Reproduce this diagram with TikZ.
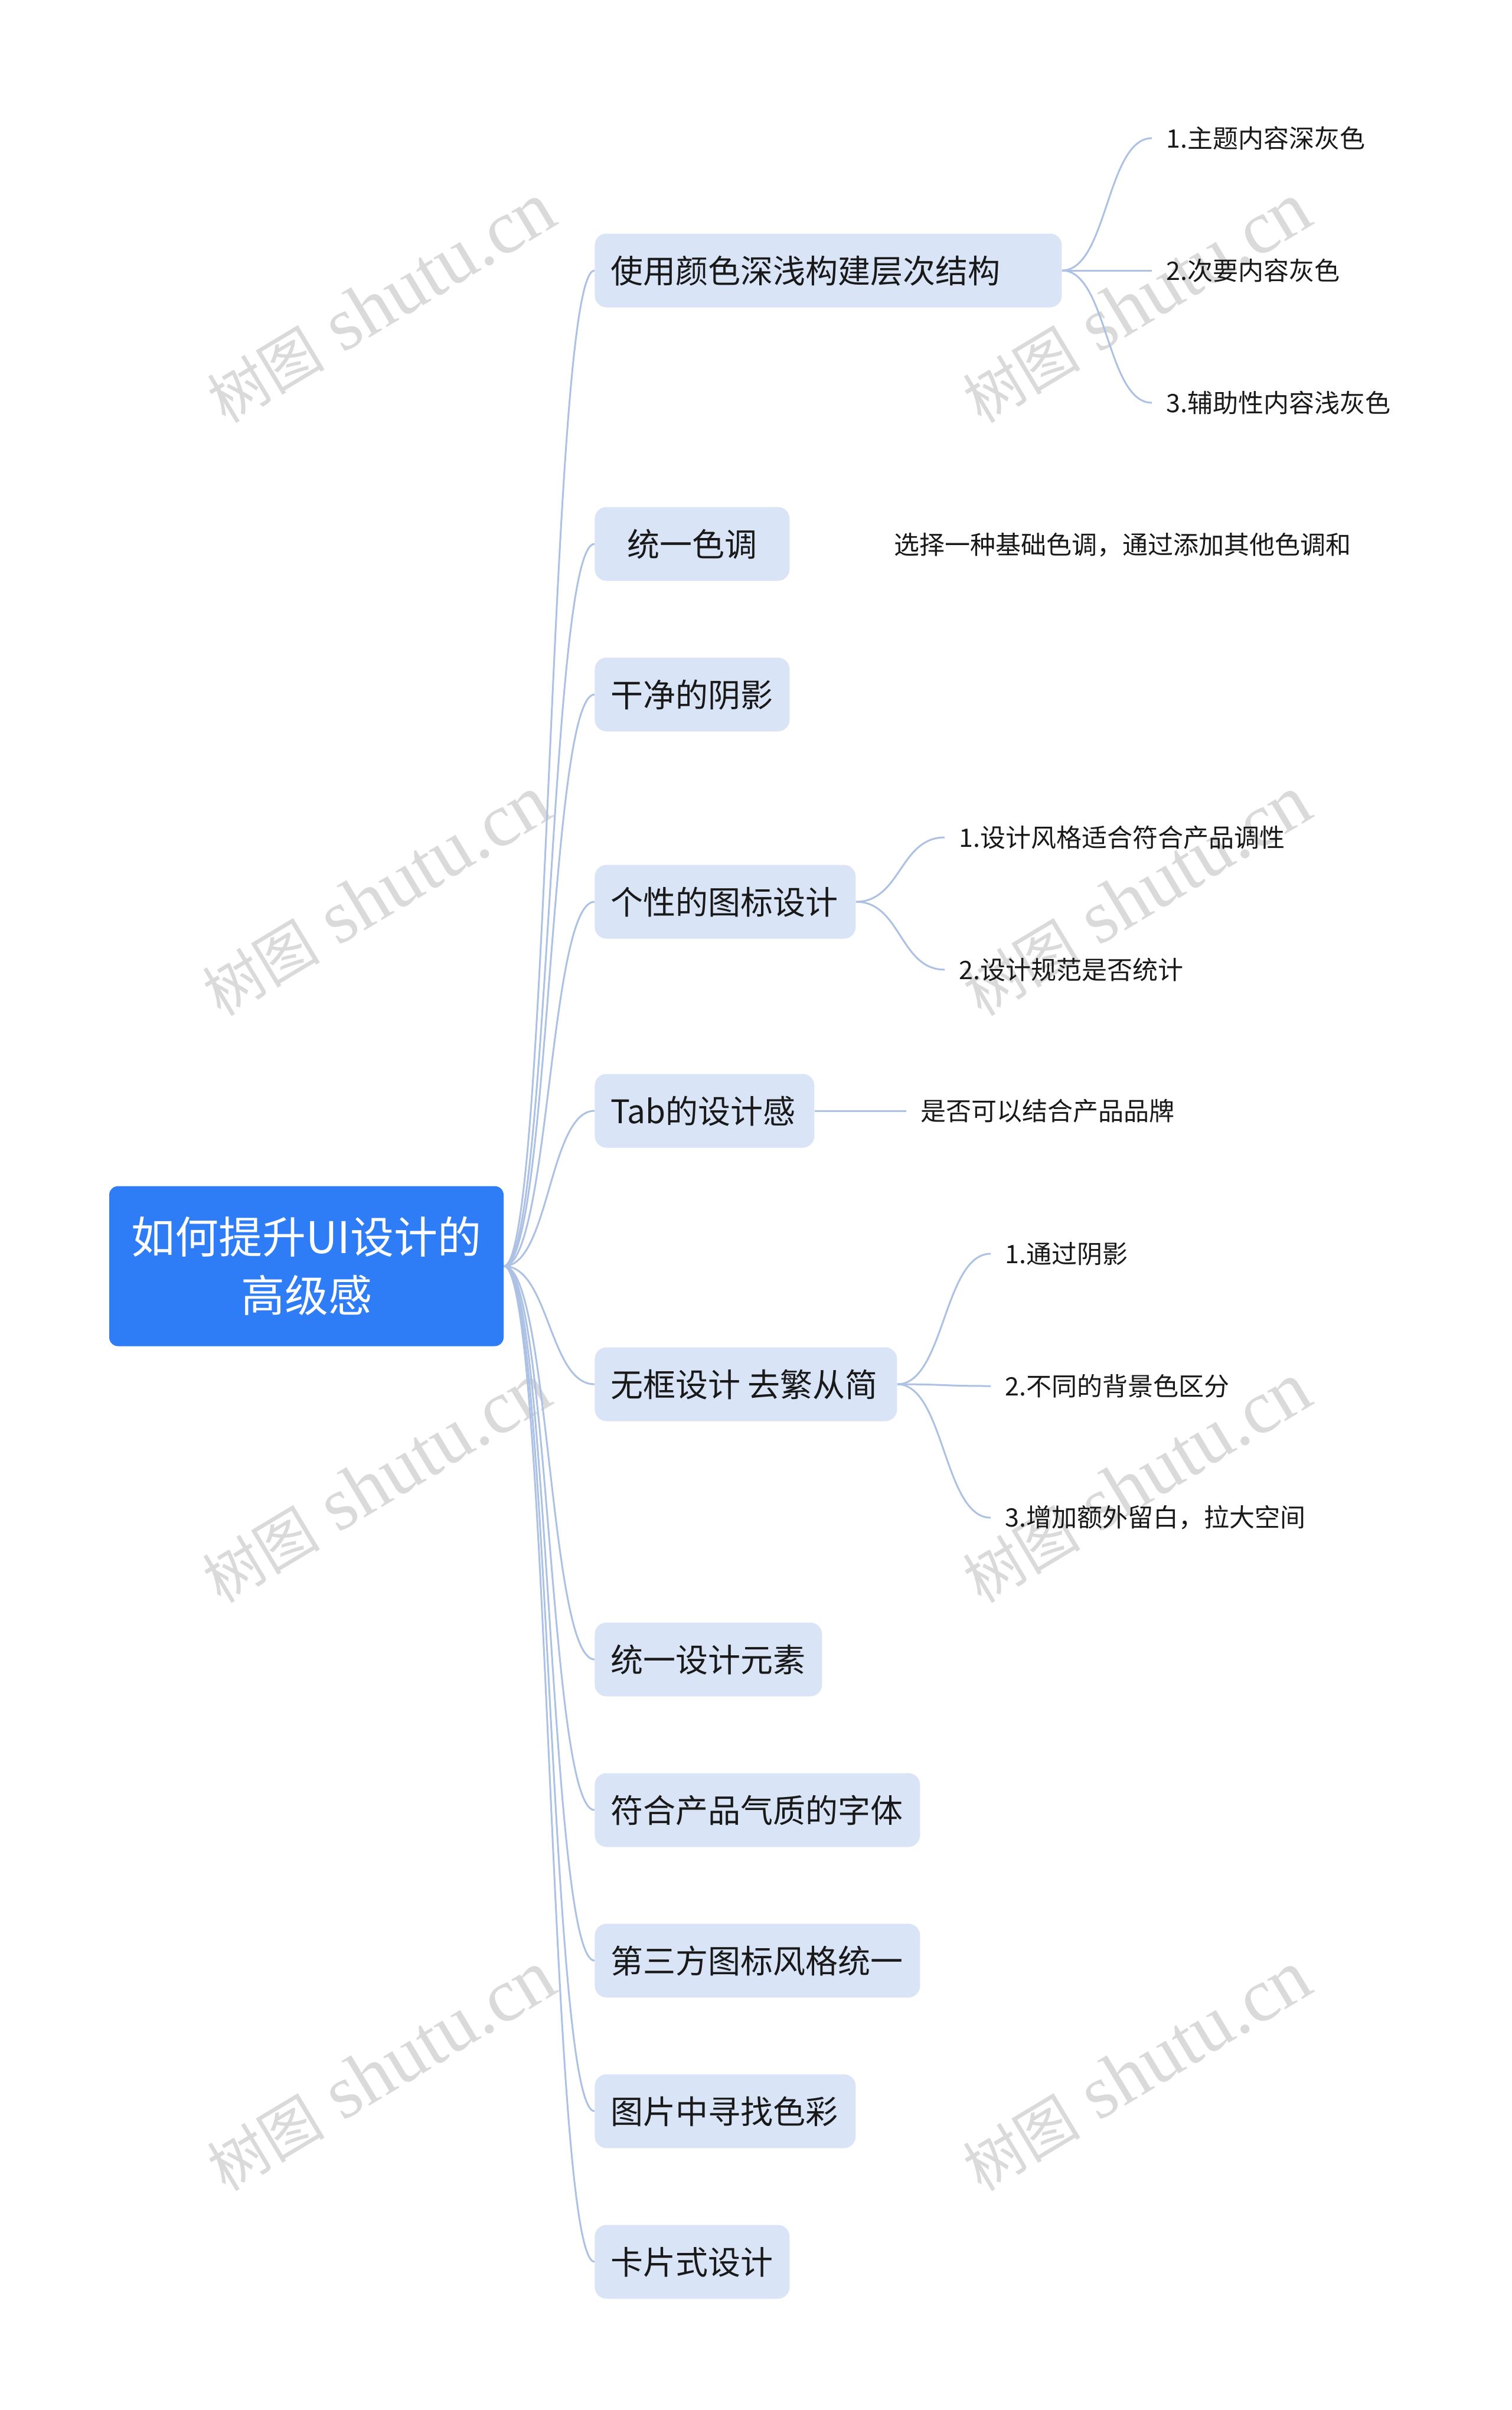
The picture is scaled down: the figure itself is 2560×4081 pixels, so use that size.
\documentclass[tikz,border=0pt]{standalone}
\usepackage{fontspec}
\setmainfont{Noto Sans CJK SC}
\newfontfamily\wmserif{Liberation Serif}
\definecolor{rootblue}{RGB}{46,125,246}
\definecolor{boxblue}{RGB}{217,228,246}
\definecolor{linkblue}{RGB}{172,193,228}
\definecolor{txt}{RGB}{25,25,25}
\definecolor{wm}{RGB}{218,218,218}
\newcommand\tbw[2]{\makebox[#1][l]{#2}}
\newcommand\tbc[2]{\makebox[#1][c]{#2}}
\begin{document}
\begin{tikzpicture}[x=0.5pt,y=-0.5pt,
 rootbox/.style={fill=rootblue, rounded corners=7.5pt, minimum width=334pt, minimum height=135.5pt, text=white, font=\fontsize{37}{49.5}\selectfont, align=center, inner sep=0pt},
 topicbox/.style={fill=boxblue, rounded corners=10pt, minimum height=62.5pt, inner xsep=13.5pt, inner ysep=0pt, anchor=west, text=txt, font=\fontsize{27.5}{33}\selectfont, text height=22pt, text depth=1pt},
 subtext/.style={anchor=west, inner xsep=12pt, inner ysep=2pt, text=txt, font=\fontsize{21.5}{26}\selectfont},
 link/.style={draw=linkblue, line width=1.5pt},
 wmark/.style={rotate=31, text=wm, inner sep=0pt}
]
\useasboundingbox[fill=white] (0,0) rectangle (2560,4081);

% watermarks
\foreach \i/\x/\y in {1/645/513, 2/1925/513, 3/637/1517, 4/1925/1517, 5/637/2511, 6/1925/2511, 7/645/3507, 8/1925/3507}{
  \node[wmark] (wm\i) at (\x,\y) {\fontsize{50}{60}\selectfont 树图\hspace{16pt}{\wmserif\fontsize{64}{70}\selectfont shutu.cn}};
}

% root
\node[rootbox] (root) at (519,2144) {如何提升UI设计的\\高级感};

% main topics
\node[topicbox] (t1) at (1007,458) {\tbw{368.5pt}{使用颜色深浅构建层次结构}};
\node[topicbox] (t2) at (1007,921) {\tbc{138pt}{统一色调}};
\node[topicbox] (t3) at (1007,1176) {\tbw{138pt}{干净的阴影}};
\node[topicbox] (t4) at (1007,1527) {\tbw{194pt}{个性的图标设计}};
\node[topicbox] (t5) at (1007,1881) {\tbw{159pt}{Tab的设计感}};
\node[topicbox] (t6) at (1007,2344) {\tbw{229pt}{无框设计 去繁从简}};
\node[topicbox] (t7) at (1007,2810) {\tbw{165.5pt}{统一设计元素}};
\node[topicbox] (t8) at (1007,3065) {\tbw{248.5pt}{符合产品气质的字体}};
\node[topicbox] (t9) at (1007,3320) {\tbw{248.5pt}{第三方图标风格统一}};
\node[topicbox] (t10) at (1007,3575) {\tbw{194pt}{图片中寻找色彩}};
\node[topicbox] (t11) at (1007,3830) {\tbw{138pt}{卡片式设计}};

\foreach \t in {t1,t2,t3,t4,t5,t6,t7,t8,t9,t10,t11}{
  \draw[link] (root.east) .. controls +(77,0) and +(-77,0) .. (\t.west);
}

% sub topics
\node[subtext] (s11) at (1951,234) {1.主题内容深灰色};
\node[subtext] (s12) at (1951,458) {2.次要内容灰色};
\node[subtext] (s13) at (1951,682) {3.辅助性内容浅灰色};
\foreach \s in {s11,s12,s13}{
  \draw[link] (t1.east) .. controls +(77,0) and +(-77,0) .. (\s.west);
}

\node[subtext] (s21) at (1490,923) {选择一种基础色调，通过添加其他色调和};

\node[subtext] (s41) at (1600,1418) {1.设计风格适合符合产品调性};
\node[subtext] (s42) at (1600,1642) {2.设计规范是否统计};
\foreach \s in {s41,s42}{
  \draw[link] (t4.east) .. controls +(76,0) and +(-76,0) .. (\s.west);
}

\node[subtext] (s51) at (1535,1881) {是否可以结合产品品牌};
\draw[link] (t5.east) -- (s51.west);

\node[subtext] (s61) at (1678,2123) {1.通过阴影};
\node[subtext] (s62) at (1678,2347) {2.不同的背景色区分};
\node[subtext] (s63) at (1678,2570) {3.增加额外留白，拉大空间};
\foreach \s in {s61,s62,s63}{
  \draw[link] (t6.east) .. controls +(80,0) and +(-80,0) .. (\s.west);
}
\end{tikzpicture}
\end{document}
